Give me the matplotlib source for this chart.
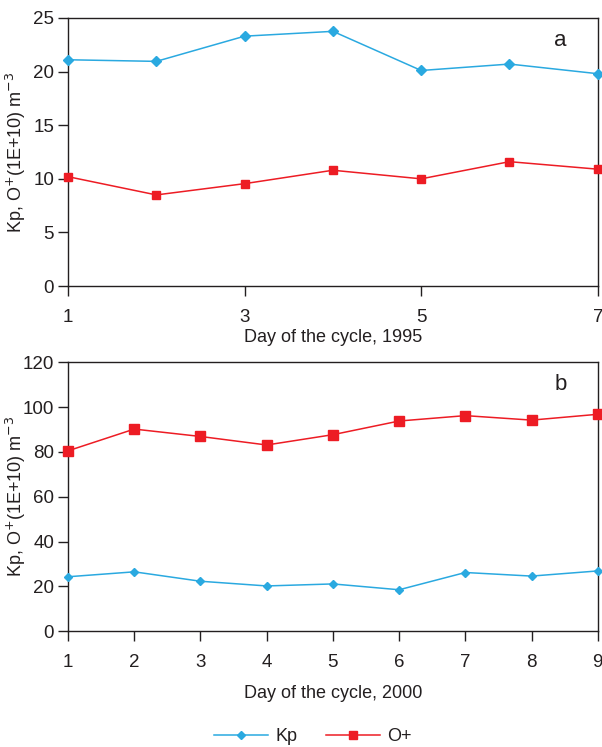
import matplotlib.pyplot as plt
from matplotlib.lines import Line2D

# 1995 cycle
days_a = [1, 2, 3, 4, 5, 6, 7]
kp_a = [21.1, 20.95, 23.3, 23.75, 20.1, 20.7, 19.8]
op_a = [10.2, 8.5, 9.55, 10.8, 10.0, 11.6, 10.9]

# 2000 cycle
days_b = [1, 2, 3, 4, 5, 6, 7, 8, 9]
kp_b = [24.3, 26.5, 22.3, 20.2, 21.1, 18.5, 26.2, 24.6, 26.9]
op_b = [80.5, 90.2, 86.9, 83.1, 87.7, 93.8, 96.2, 94.2, 96.8]

blue = '#2aa9e0'
red = '#ed1c24'
ink = '#231f20'

plt.rcParams['font.family'] = 'Liberation Sans'
plt.rcParams['font.size'] = 13

fig = plt.figure(figsize=(6.02, 7.47), dpi=100)
ax1 = fig.add_axes([0.113, 0.617, 0.880, 0.359])
ax2 = fig.add_axes([0.113, 0.155, 0.880, 0.360])

ylab = 'Kp, O$^{+}$(1E+10) m$^{-3}$'

ax1.plot(days_a, kp_a, color=blue, lw=1.1, marker='D', ms=5.5, clip_on=False, zorder=3)
ax1.plot(days_a, op_a, color=red, lw=1.1, marker='s', ms=6, clip_on=False, zorder=3)
ax1.set_xlim(1, 7)
ax1.set_ylim(0, 25)
ax1.set_xticks([1, 3, 5, 7])
ax1.set_yticks(range(0, 26, 5))
ax1.set_xlabel('Day of the cycle, 1995', color=ink, labelpad=2.5)
ax1.text(0.93, 0.915, 'a', transform=ax1.transAxes, fontsize=16, color=ink, ha='center', va='center')

ax2.plot(days_b, kp_b, color=blue, lw=1.1, marker='D', ms=4, clip_on=False, zorder=3)
ax2.plot(days_b, op_b, color=red, lw=1.1, marker='s', ms=6.5, clip_on=False, zorder=3)
ax2.set_xlim(1, 9)
ax2.set_ylim(0, 120)
ax2.set_xticks(days_b)
ax2.set_yticks(range(0, 121, 20))
ax2.set_xlabel('Day of the cycle, 2000', color=ink, labelpad=10)
ax2.text(0.93, 0.918, 'b', transform=ax2.transAxes, fontsize=16, color=ink, ha='center', va='center')

# y labels share one column on the left edge
for ax in (ax1, ax2):
    pos = ax.get_position()
    fig.text(16 / 602, pos.y0 + pos.height / 2, ylab, rotation=90,
             ha='center', va='center', color=ink, fontsize=13)
    for s in ax.spines.values():
        s.set_color(ink)
        s.set_linewidth(1.0)
    ax.tick_params(direction='out', length=7, width=1.0, color=ink,
                   labelcolor=ink, labelsize=13.5, pad=3)
    ax.tick_params(axis='x', pad=9.5)

handles = [
    Line2D([], [], color=blue, lw=1.1, marker='D', ms=4),
    Line2D([], [], color=red, lw=1.1, marker='s', ms=6),
]
fig.legend(handles, ['Kp', 'O+'], loc='center', bbox_to_anchor=(0.52, 0.0135),
           ncol=2, frameon=False, handlelength=3.0, handletextpad=0.4,
           columnspacing=1.6, fontsize=13, labelcolor=ink)

fig.savefig('out.png', dpi=100)
